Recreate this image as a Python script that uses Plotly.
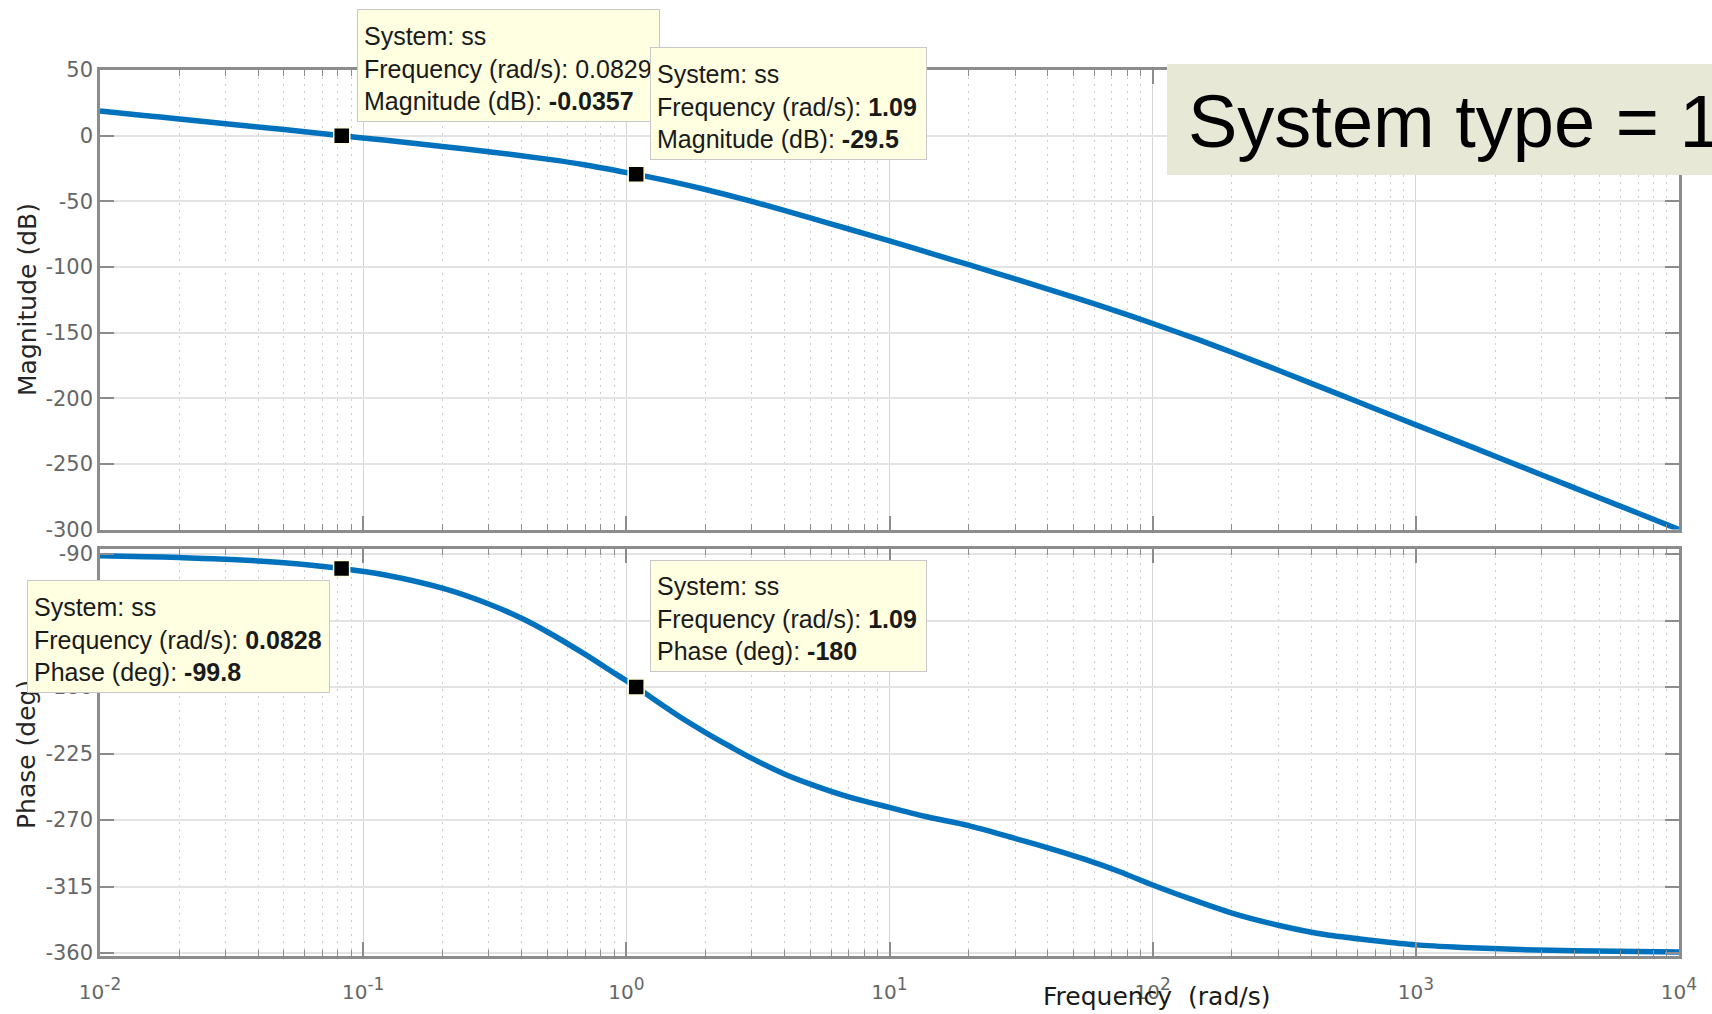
import plotly.graph_objects as go

# Open-loop frequency response of system "ss"
mag_freq = [0.01, 0.015, 0.02, 0.03, 0.05, 0.0829, 0.12, 0.2, 0.3, 0.5, 0.7, 1.09,
            1.5, 2, 3, 5, 7, 10, 15, 20, 30, 50, 70, 100, 150, 200, 300, 500,
            700, 1000, 1500, 2000, 3000, 5000, 7000, 10000]
mag_db = [18.7, 15.2, 12.7, 9.1, 4.6, -0.0357, -3.4, -8.2, -12.2, -17.9, -22.3, -29.5,
          -35.2, -41.0, -50.1, -62.6, -71.1, -80.1, -90.8, -98.3, -109.1, -123.0, -132.5,
          -143.1, -155.6, -165.0, -178.7, -196.3, -208.0, -220.3, -234.2, -244.2,
          -258.3, -276.0, -287.6, -300.0]

phase_freq = [0.01, 0.015, 0.02, 0.03, 0.05, 0.0828, 0.12, 0.2, 0.3, 0.4, 0.5, 0.7,
              0.9, 1.09, 1.3, 1.6, 2, 2.5, 3, 4, 5, 7, 10, 14, 20, 30, 40, 55, 75,
              100, 140, 200, 300, 450, 700, 1000, 1500, 2500, 4000, 10000]
phase_deg = [-91.2, -91.8, -92.4, -93.5, -95.9, -99.8, -104.0, -113.1, -123.8, -133.5,
             -142.6, -158.1, -170.6, -180.0, -189.5, -200.3, -210.8, -220.6, -228.3,
             -239.0, -245.7, -254.4, -261.5, -268.0, -273.8, -282.5, -288.8, -296.5,
             -305.0, -314.0, -323.6, -333.0, -341.2, -347.5, -351.7, -354.5, -356.2,
             -357.7, -358.5, -359.4]

# Data-tip readouts
tip_mag_freq = [0.0829, 1.09]
tip_mag_db = [-0.0357, -29.5]
tip_phase_freq = [0.0828, 1.09]
tip_phase_deg = [-99.8, -180]

decades = [-2, -1, 0, 1, 2, 3, 4]
mag_ticks = [-300, -250, -200, -150, -100, -50, 0, 50]
phase_ticks = [-360, -315, -270, -225, -180, -135, -90]

W, H = 1712, 1014
L, R, T, B = 100, 33, 70, 58
PW, PH = W - L - R, H - T - B


def px(x):
    return (x - L) / PW


def py(y):
    return (H - B - y) / PH


AX = "#8c8c8c"
LINE = "#0072BD"
TICKFONT = dict(family="DejaVu Sans", size=21, color="#666666")
LABELFONT = dict(family="DejaVu Sans", size=25, color="#262626")
TIPFONT = dict(family="Liberation Sans, Arial", size=25, color="#1a1a1a")

major_x = [10.0 ** d for d in decades]
minor_x = [m * 10.0 ** d for d in decades[:-1] for m in range(2, 10)]
x_ticktext = ["10<sup><span style='font-size:17px'>%s</span></sup>" % d for d in decades]


def xaxis_common(anchor, labels):
    return dict(
        type="log", range=[decades[0], decades[-1]], anchor=anchor,
        showline=True, linecolor=AX, linewidth=2.5, mirror="allticks",
        ticks="inside", ticklen=14, tickwidth=1.6, tickcolor=AX,
        tickmode="array", tickvals=major_x, ticktext=x_ticktext,
        showticklabels=labels,
        tickfont=dict(family="DejaVu Sans", size=20, color="#666666"),
        ticklabelstandoff=16,
        showgrid=True, gridcolor="#d6d6d6", gridwidth=1.3, zeroline=False,
        minor=dict(tickmode="array", tickvals=minor_x, ticks="inside", ticklen=6,
                   tickwidth=1.3, tickcolor=AX, showgrid=True, gridcolor="#cdcdcd",
                   griddash="2px,5px", gridwidth=1),
    )


def yaxis_common(anchor, domain, rng, ticks):
    return dict(
        anchor=anchor, domain=domain, range=rng,
        showline=True, linecolor=AX, linewidth=2.5, mirror="allticks",
        ticks="inside", ticklen=14, tickwidth=1.6, tickcolor=AX,
        tickmode="array", tickvals=ticks, ticktext=[str(t) for t in ticks],
        tickfont=TICKFONT, ticklabelstandoff=0,
        showgrid=True, gridcolor="#e3e3e3", gridwidth=2.2, zeroline=False,
    )


fig = go.Figure()

fig.add_trace(go.Scatter(x=mag_freq, y=mag_db, mode="lines", xaxis="x", yaxis="y",
                         line=dict(color=LINE, width=5.5, shape="spline", smoothing=0.8),
                         showlegend=False, hoverinfo="skip"))
fig.add_trace(go.Scatter(x=phase_freq, y=phase_deg, mode="lines", xaxis="x2", yaxis="y2",
                         line=dict(color=LINE, width=5.5, shape="spline", smoothing=0.8),
                         showlegend=False, hoverinfo="skip"))

marker = dict(symbol="square", size=16, color="black", line=dict(color="#ffffe1", width=1.5))
fig.add_trace(go.Scatter(x=tip_mag_freq, y=tip_mag_db, mode="markers", xaxis="x", yaxis="y",
                         marker=marker, showlegend=False, hoverinfo="skip"))
fig.add_trace(go.Scatter(x=tip_phase_freq, y=tip_phase_deg, mode="markers", xaxis="x2",
                         yaxis="y2", marker=marker, showlegend=False, hoverinfo="skip"))

annotations = []

# Axis titles
annotations.append(dict(text="Magnitude (dB)", x=px(27), y=py(300), xref="paper", yref="paper",
                        textangle=-90, showarrow=False, font=LABELFONT,
                        xanchor="center", yanchor="middle"))
annotations.append(dict(text="Phase (deg)", x=px(27), y=py(755), xref="paper", yref="paper",
                        textangle=-90, showarrow=False, font=LABELFONT,
                        xanchor="center", yanchor="middle"))
annotations.append(dict(text="Frequency\u00a0 (rad/s)", x=px(1156), y=py(996.5),
                        xref="paper", yref="paper", showarrow=False,
                        font=dict(family="DejaVu Sans", size=25, color="#1a1a1a"),
                        xanchor="center", yanchor="middle"))

PAD = 6


def data_tip(left, top, width, height, lines):
    inner_w = width - 2 * (PAD + 1)
    inner_h = height - 2 * (PAD + 1)
    annotations.append(dict(text="<br>".join(lines), x=px(left), y=py(top),
                            xref="paper", yref="paper", xanchor="left", yanchor="top",
                            width=inner_w, height=inner_h, align="left", valign="bottom",
                            borderpad=PAD, borderwidth=1, bgcolor="#ffffe1",
                            bordercolor="#c8c8c8", showarrow=False, font=TIPFONT))


def val(v, bold=True):
    s = "%g" % v
    return "<b>%s</b>" % s if bold else s


data_tip(357, 9, 303, 113, ["System: ss",
                            "Frequency (rad/s): " + val(tip_mag_freq[0], bold=False),
                            "Magnitude (dB): " + val(tip_mag_db[0])])
data_tip(650, 47, 277, 113, ["System: ss",
                            "Frequency (rad/s): " + val(tip_mag_freq[1]),
                            "Magnitude (dB): " + val(tip_mag_db[1])])
data_tip(27, 580, 303, 113, ["System: ss",
                            "Frequency (rad/s): " + val(tip_phase_freq[0]),
                            "Phase (deg): " + val(tip_phase_deg[0])])
data_tip(650, 560, 277, 112, ["System: ss",
                             "Frequency (rad/s): " + val(tip_phase_freq[1]),
                             "Phase (deg): " + val(tip_phase_deg[1])])

# Slide caption
annotations.append(dict(text="System type = 1", x=px(1186), y=py(121), xref="paper",
                        yref="paper", xanchor="left", yanchor="middle", showarrow=False,
                        font=dict(family="Liberation Sans, Arial", size=74, color="black")))

shapes = [dict(type="rect", xref="paper", yref="paper", x0=px(1167), x1=px(1760),
               y0=py(175), y1=py(64), fillcolor="#e8e8d6", line=dict(width=0), layer="above")]

fig.update_layout(
    width=W, height=H, margin=dict(l=L, r=R, t=T, b=B, autoexpand=False),
    paper_bgcolor="white", plot_bgcolor="white",
    xaxis=xaxis_common("y", False),
    xaxis2=xaxis_common("y2", True),
    yaxis=yaxis_common("x", [py(529.5), 1.0], [-300, 50], mag_ticks),
    yaxis2=yaxis_common("x2", [0.0, py(549)], [-362.03, -86.62], phase_ticks),
    annotations=annotations, shapes=shapes, showlegend=False,
)
fig.layout.xaxis.matches = "x2"

fig.write_html("out.html", config=dict(displayModeBar=False))
